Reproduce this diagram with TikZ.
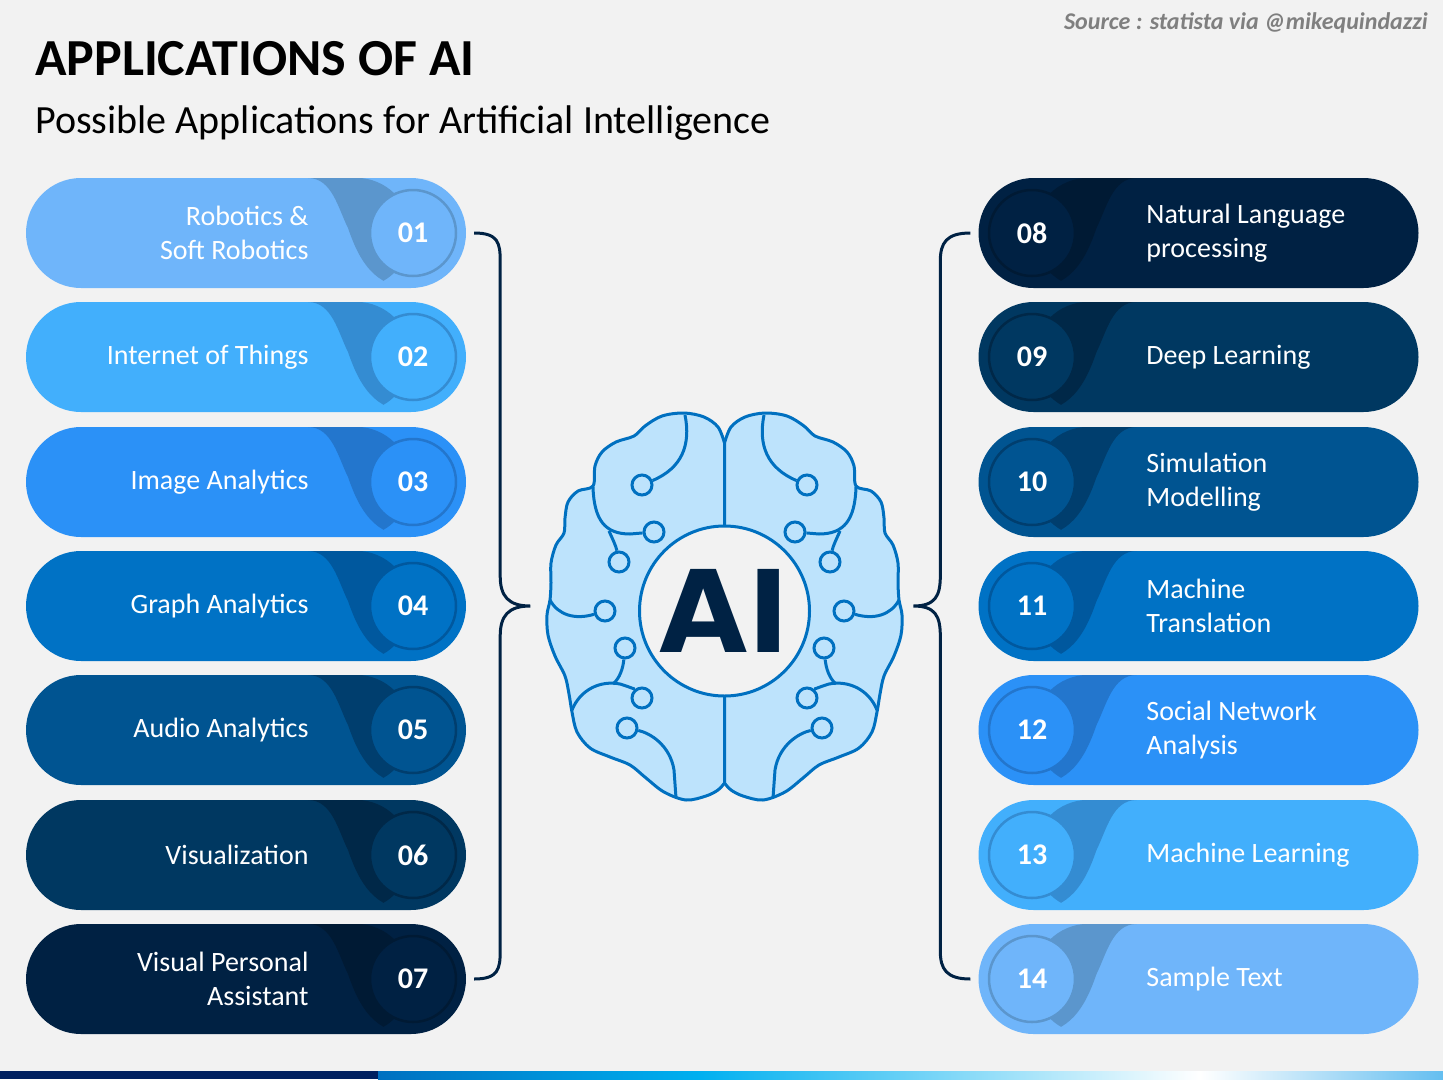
\documentclass[tikz,border=0pt]{standalone}
\usepackage{fontspec}
\setmainfont{Carlito}
\newfontfamily\aifont{DejaVu Sans}
\usetikzlibrary{positioning,shapes.misc}

\definecolor{bg}{HTML}{F2F2F2}
\definecolor{navy}{HTML}{002244}
\definecolor{srcgray}{HTML}{7F7F7F}
\definecolor{cA}{HTML}{6FB5FA}\definecolor{dA}{HTML}{5B96CD}
\definecolor{cB}{HTML}{42AFFC}\definecolor{dB}{HTML}{348CD2}
\definecolor{cC}{HTML}{2B91F7}\definecolor{dC}{HTML}{2376CD}
\definecolor{cD}{HTML}{0072C5}\definecolor{dD}{HTML}{00589E}
\definecolor{cE}{HTML}{005491}\definecolor{dE}{HTML}{003E6E}
\definecolor{cF}{HTML}{003861}\definecolor{dF}{HTML}{002848}
\definecolor{cG}{HTML}{002143}\definecolor{dG}{HTML}{001A34}
\definecolor{brainline}{HTML}{0070C0}
\definecolor{brainfill}{HTML}{BDE3FC}
\definecolor{barnavy}{HTML}{002060}
\definecolor{barblue}{HTML}{0070C0}
\definecolor{barcyan}{HTML}{00B0F0}
\definecolor{barlight}{HTML}{64BEF0}

% one half of the brain, left side coordinates
\newcommand{\brainhalf}[1]{%
  \filldraw[bline, fill=brainfill] plot[smooth, tension=0.55] coordinates {(724.5,443) (718,427) (704,417) (684,413) (662,416) (645,426) (634,436) (616,442) (602,452) (595,466) (593,486) (578,491) (568,502) (565,518) (564,533) (556,545) (551,563) (551,583) (550,600) (547,615) (548,635) (555,656) (565,676) (569,694) (572,712) (577,732) (590,748) (610,757) (630,765) (646,778) (664,792) (686,800) (706,796) (718,790) (724.5,783)} -- cycle;
  \node[dot] (#1a) at (642,485) {};
  \node[dot] (#1b) at (654,532) {};
  \node[dot] (#1c) at (619,562) {};
  \node[dot] (#1d) at (605,611) {};
  \node[dot] (#1e) at (625,648) {};
  \node[dot] (#1f) at (642,698) {};
  \node[dot] (#1g) at (627,728) {};
  \draw[bline] (685,415) .. controls (691,445) and (682,468) .. (#1a);
  \draw[bline] (593,487) .. controls (594,520) and (605,534) .. (630,534) -- (#1b);
  \draw[bline] (609,531) .. controls (613,540) and (616,546) .. (#1c);
  \draw[bline] (550,600) .. controls (558,615) and (575,620) .. (#1d);
  \draw[bline] (572,710) .. controls (580,690) and (600,680) .. (620,684) .. controls (630,687) and (636,690) .. (#1f);
  \draw[bline] (#1e) .. controls (623,668) and (620,678) .. (613,684);
  \draw[bline] (#1g) .. controls (650,733) and (670,745) .. (674,770) -- (676,798);
}

\begin{document}
\begin{tikzpicture}[x=1pt, y=-1pt,
    pill/.style={rounded rectangle, minimum width=440pt, minimum height=110pt, inner sep=0pt},
    num/.style={circle, minimum size=86pt, inner sep=0pt, line width=2.5pt, text=white, font=\fontsize{30}{30}\selectfont\bfseries},
    lbl/.style={text=white, inner sep=0pt, font=\fontsize{28}{34}\selectfont},
    brace/.style={navy, line width=3pt},
    bline/.style={brainline, line width=3pt, line join=round},
    dot/.style={circle, draw=brainline, fill=brainfill, line width=3pt, minimum size=20pt, inner sep=0pt}]
  \useasboundingbox (0,0) rectangle (1443,1079);
  \fill[bg] (0,0) rectangle (1443,1079);

  % header
  \node[anchor=base west, inner sep=0pt, font=\fontsize{52}{60}\selectfont\bfseries] (title) at (35,75) {APPLICATIONS OF AI};
  \node[anchor=base west, inner sep=0pt, font=\fontsize{40}{48}\selectfont] (subtitle) at (35,133) {Possible Applications for Artificial Intelligence};
  \node[anchor=base east, inner sep=0pt, text=srcgray, font=\fontsize{24}{24}\selectfont\bfseries\itshape] (source) at (1428,29) {Source : statista via @mikequindazzi};

  % left pills
  \foreach \n/\y/\c/\d/\txt in {01/233/cA/dA/Robotics \&\\Soft Robotics, 02/357/cB/dB/Internet of Things, 03/482/cC/dC/Image Analytics, 04/606/cD/dD/Graph Analytics, 05/730/cE/dE/Audio Analytics, 06/855/cF/dF/Visualization, 07/979/cG/dG/Visual Personal\\Assistant}{
    \node[pill, fill=\c] (p\n) at (246,\y) {};
    \begin{scope}
      \clip[rounded corners=55pt] (p\n.north west) rectangle (p\n.south east);
      \fill[\d] (308,\y-55) .. controls (332,\y-55) and (338,\y-25) .. (348,\y-5) .. controls (360,\y+30) and (375,\y+53) .. (410,\y+55) -- (470,\y+55) -- (470,\y-55) -- cycle;
    \end{scope}
    \node[num, fill=\c, draw=\d] (n\n) at (413,\y) {\n};
    \node[lbl, align=right, left=60pt of n\n] {\txt};
  }

  % right pills
  \foreach \n/\y/\c/\d/\txt in {08/233/cG/dG/Natural Language\\processing, 09/357/cF/dF/Deep Learning, 10/482/cE/dE/Simulation\\Modelling, 11/606/cD/dD/Machine\\Translation, 12/730/cC/dC/Social Network\\Analysis, 13/855/cB/dB/Machine Learning, 14/979/cA/dA/Sample Text}{
    \node[pill, fill=\c] (q\n) at (1198.5,\y) {};
    \begin{scope}
      \clip[rounded corners=55pt] (q\n.north west) rectangle (q\n.south east);
      \fill[\d] (1136.5,\y-55) .. controls (1112.5,\y-55) and (1106.5,\y-25) .. (1096.5,\y-5) .. controls (1084.5,\y+30) and (1069.5,\y+53) .. (1034.5,\y+55) -- (970,\y+55) -- (970,\y-55) -- cycle;
    \end{scope}
    \node[num, fill=\c, draw=\d] (m\n) at (1032,\y) {\n};
    \node[lbl, align=left, right=70pt of m\n] {\txt};
  }

  % brain
  \brainhalf{l}
  \begin{scope}[shift={(1449,0)}, xscale=-1]
    \brainhalf{r}
  \end{scope}
  \node[circle, draw=brainline, fill=bg, line width=3pt, minimum size=170pt, inner sep=0pt, text=navy, font=\aifont\bfseries\fontsize{114}{114}\selectfont] (ai) at (724.5,611) {AI};

  % braces
  \draw[brace] ([xshift=8pt]p01.east) .. controls +(24,0) and +(0,-18) .. ([shift={(34,28)}]p01.east) -- ([shift={(34,-30)}]p04.east) .. controls +(0,20) and +(-22,0) .. ([xshift=64pt]p04.east) .. controls +(-22,0) and +(0,-20) .. ([shift={(34,30)}]p04.east) -- ([shift={(34,-28)}]p07.east) .. controls +(0,18) and +(24,0) .. ([xshift=8pt]p07.east);
  \draw[brace] ([xshift=-8pt]q08.west) .. controls +(-24,0) and +(0,-18) .. ([shift={(-38,28)}]q08.west) -- ([shift={(-38,-30)}]q11.west) .. controls +(0,20) and +(22,0) .. ([xshift=-65pt]q11.west) .. controls +(22,0) and +(0,-20) .. ([shift={(-38,30)}]q11.west) -- ([shift={(-38,-28)}]q14.west) .. controls +(0,18) and +(-24,0) .. ([xshift=-8pt]q14.west);

  % bottom bar
  \fill[barnavy] (0,1071) rectangle (378,1079);
  \shade[left color=barblue, right color=barcyan] (378,1071) rectangle (700,1079);
  \shade[left color=barcyan, right color=white] (700,1071) rectangle (1200,1079);
  \shade[left color=white, right color=barlight] (1200,1071) rectangle (1443,1079);
\end{tikzpicture}
\end{document}
